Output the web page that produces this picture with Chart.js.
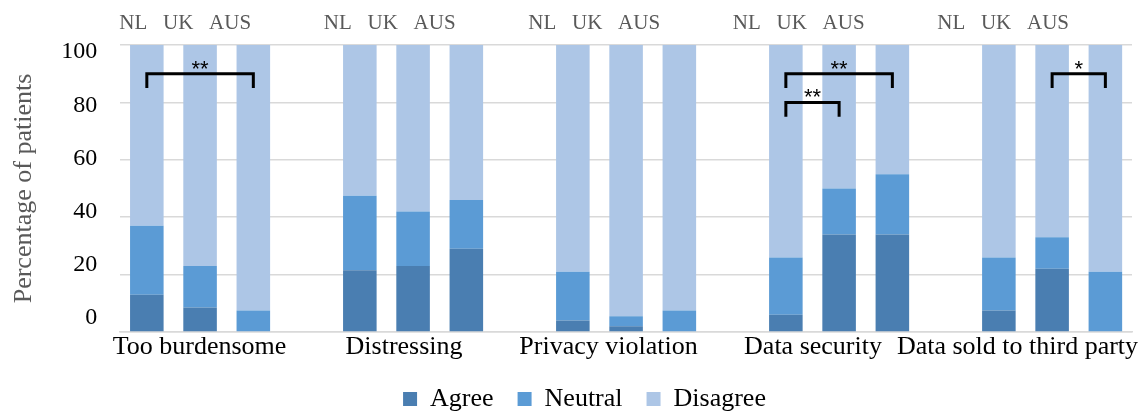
<!DOCTYPE html>
<html>
<head>
<meta charset="utf-8">
<script src="https://cdn.jsdelivr.net/npm/chart.js@4/dist/chart.umd.min.js"></script>
<style>
  html, body { margin: 0; padding: 0; background: #fff; }
  #wrap { width: 1142px; height: 412px; }
</style>
</head>
<body>
<div id="wrap"><canvas id="myChart" width="1142" height="412"></canvas></div>
<script>
// questions (groups) and countries (bars within each group)
const groups = ['Too burdensome', 'Distressing', 'Privacy violation', 'Data security', 'Data sold to third party'];
const countries = ['NL', 'UK', 'AUS'];

// percentages per group, in order NL, UK, AUS
const agree = [[13, 8.5, 0], [21.5, 23, 29], [4, 2, 0], [6, 34, 34], [7.5, 22, 0]];
const neutral = [[24, 14.5, 7.5], [26, 19, 17], [17, 3.5, 7.5], [20, 16, 21], [18.5, 11, 21]];
const disagree = [[63, 77, 92.5], [52.5, 58, 54], [79, 94.5, 92.5], [74, 50, 45], [74, 67, 79]];

const yTicks = [0, 20, 40, 60, 80, 100];

// significance brackets: group, first bar, last bar, label, bracket top / tick end (in %)
const sigGroups = [0, 3, 3, 4];
const sigFrom = [0, 0, 0, 1];
const sigTo = [2, 2, 1, 2];
const sigText = ['**', '**', '**', '*'];
const sigTop = [90, 90, 80, 90];
const sigBottom = [85, 85, 75, 85];

// one slot per bar, plus an empty slot between groups
const slots = [];
groups.forEach((g, gi) => {
  countries.forEach((c) => slots.push(g + ' ' + c));
  if (gi < groups.length - 1) slots.push('');
});

function toSlots(values) {
  const out = [];
  values.forEach((grp, gi) => {
    grp.forEach((v) => out.push(v));
    if (gi < values.length - 1) out.push(null);
  });
  return out;
}

const serif = "'Liberation Serif', 'Times New Roman', serif";

const overlay = {
  id: 'overlay',
  afterLayout(chart) {
    // legend sits a bit right of centre in the original
    chart.legend.left += 16;
    chart.legend.right += 16;
  },
  afterDraw(chart) {
    const ctx = chart.ctx;
    const x = chart.scales.x;
    const y = chart.scales.y;
    const area = chart.chartArea;
    ctx.save();

    // y tick labels (spaced a little tighter than the gridlines, like the original)
    ctx.font = '24px ' + serif;
    ctx.fillStyle = '#000';
    ctx.textAlign = 'right';
    ctx.textBaseline = 'middle';
    yTicks.forEach((v) => {
      const py = area.top + 7 + (y.getPixelForValue(v) - area.top) * 0.927;
      ctx.fillText(String(v), area.left - 23, py);
    });

    // country labels above each group
    ctx.font = '21px ' + serif;
    ctx.fillStyle = '#595959';
    ctx.textAlign = 'center';
    ctx.textBaseline = 'alphabetic';
    groups.forEach((g, gi) => {
      const px = x.getPixelForValue(0.72 + gi * 3.84);
      ctx.fillText(countries.join('   '), px, 29);
    });

    // question labels under each group
    ctx.font = '26px ' + serif;
    ctx.fillStyle = '#000';
    groups.forEach((g, gi) => {
      const px = x.getPixelForValue(0.99 + gi * 3.84);
      ctx.fillText(g, px, area.bottom + 22);
    });

    // significance brackets
    ctx.strokeStyle = '#000';
    ctx.lineWidth = 3;
    sigGroups.forEach((g, i) => {
      const x1 = x.getPixelForValue(g * 4 + sigFrom[i]);
      const x2 = x.getPixelForValue(g * 4 + sigTo[i]);
      const yt = y.getPixelForValue(sigTop[i]);
      const yb = y.getPixelForValue(sigBottom[i]);
      ctx.beginPath();
      ctx.moveTo(x1, yb);
      ctx.lineTo(x1, yt);
      ctx.lineTo(x2, yt);
      ctx.lineTo(x2, yb);
      ctx.stroke();
      ctx.font = "22px 'Liberation Sans', Arial, sans-serif";
      ctx.fillStyle = '#000';
      ctx.textAlign = 'center';
      ctx.textBaseline = 'alphabetic';
      ctx.fillText(sigText[i], (x1 + x2) / 2, yt + 2);
    });

    ctx.restore();
  }
};

const ctx = document.getElementById('myChart');

new Chart(ctx, {
  type: 'bar',
  data: {
    labels: slots,
    datasets: [
      { label: 'Agree', data: toSlots(agree), backgroundColor: '#4a7eb1' },
      { label: 'Neutral', data: toSlots(neutral), backgroundColor: '#5b9bd5' },
      { label: 'Disagree', data: toSlots(disagree), backgroundColor: '#adc6e6' },
    ],
  },
  options: {
    responsive: false,
    animation: false,
    layout: { padding: { top: 45, right: 10, left: 5, bottom: -10 } },
    datasets: {
      bar: { categoryPercentage: 1, barPercentage: 0.63, borderWidth: 0 },
    },
    scales: {
      x: {
        stacked: true,
        grid: { display: false },
        border: { display: true, color: '#d9d9d9', width: 1.5 },
        ticks: { display: false },
        afterFit(scale) { scale.height = 30; },
      },
      y: {
        stacked: true,
        min: 0,
        max: 100,
        grid: { color: '#d9d9d9', lineWidth: 1.5, drawTicks: false },
        border: { display: false },
        ticks: {
          stepSize: 20,
          color: 'rgba(0,0,0,0)',
          padding: 20,
          font: { family: serif, size: 24 },
        },
        title: {
          display: true,
          text: 'Percentage of patients',
          color: '#595959',
          font: { family: serif, size: 26 },
        },
      },
    },
    plugins: {
      tooltip: { enabled: false },
      legend: {
        position: 'bottom',
        labels: {
          boxWidth: 14,
          boxHeight: 14,
          padding: 24,
          color: '#000',
          font: { family: serif, size: 26 },
        },
      },
    },
  },
  plugins: [overlay],
});
</script>
</body>
</html>
